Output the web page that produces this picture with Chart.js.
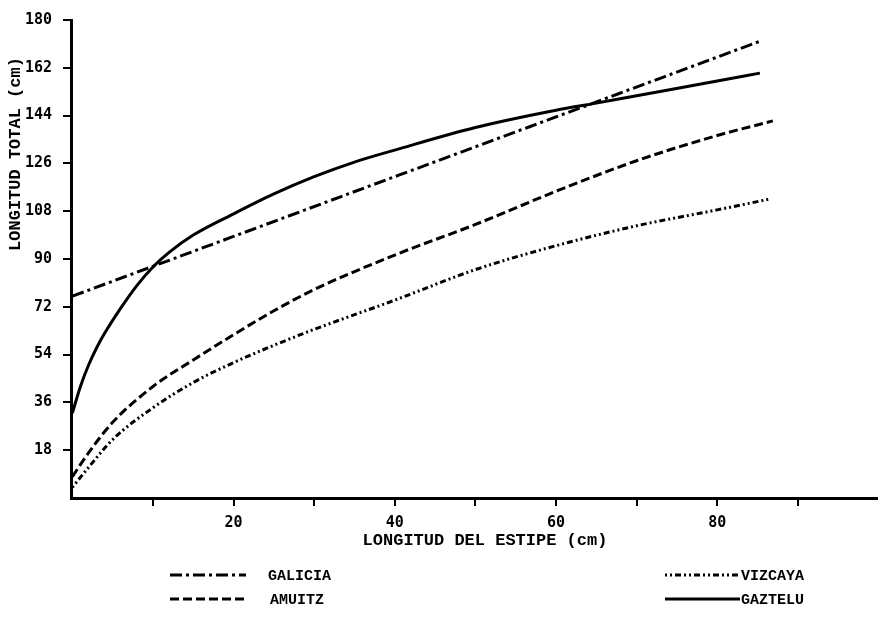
<!DOCTYPE html>
<html>
<head>
<meta charset="utf-8">
<script src="https://cdn.jsdelivr.net/npm/chart.js@4.4.0/dist/chart.umd.min.js"></script>
<style>
  html, body { margin: 0; padding: 0; background: #fff; }
</style>
</head>
<body>
<canvas id="chart" width="878" height="626"></canvas>
<script>
// --- Data (cm) ---
const galiciaX = [0, 20, 40, 60, 85.3];
const galiciaY = [76, 98.5, 121, 143.5, 172];

const vizcayaX = [0, 2, 5, 10, 15, 20, 25, 30, 40, 50, 60, 70, 80, 86.4];
const vizcayaY = [4, 11.5, 22, 34, 43.5, 51, 57.5, 63.5, 74.5, 86, 95, 102.5, 108.5, 112.5];

const amuitzX = [0, 2, 5, 10, 15, 20, 25, 30, 40, 50, 60, 70, 80, 86.9];
const amuitzY = [8, 17, 28.5, 42, 52, 61.5, 70.5, 78.5, 91.5, 103, 115.5, 127, 136.5, 142];

const gazteluX = [0, 1, 2, 3, 4, 6, 8, 10, 12, 15, 20, 25, 30, 35, 40, 50, 60, 65, 70, 80, 85.3];
const gazteluY = [32, 42, 50, 56.5, 62, 71.5, 80, 87, 92.5, 99, 107, 114.5, 121, 126.5, 131, 139.5, 146, 148.7, 151.5, 157, 160];

const yTicks = [18, 36, 54, 72, 90, 108, 126, 144, 162, 180];
const xTicks = [10, 20, 30, 40, 50, 60, 70, 80, 90];
const xLabels = [20, 40, 60, 80];

const pts = (xs, ys) => xs.map((x, i) => ({ x, y: ys[i] }));

const FONT = "'Liberation Mono', 'DejaVu Sans Mono', monospace";
const TICKFONT = "'DejaVu Sans Mono', monospace";

const line = (label, xs, ys, dash) => ({
  label,
  data: pts(xs, ys),
  borderColor: "#000",
  borderWidth: 3,
  borderDash: dash,
  pointRadius: 0,
  fill: false,
  cubicInterpolationMode: "monotone"
});

// --- Titles + 2x2 legend ---
const extras = {
  id: "extras",
  afterDraw(chart) {
    const ctx = chart.ctx;
    ctx.save();
    ctx.fillStyle = "#000";
    ctx.font = "bold 17px " + FONT;
    ctx.textBaseline = "middle";
    ctx.textAlign = "center";
    ctx.fillText("LONGITUD DEL ESTIPE (cm)", 485, 541);

    ctx.save();
    ctx.translate(16, 154);
    ctx.rotate(-Math.PI / 2);
    ctx.fillText("LONGITUD TOTAL (cm)", 0, 0);
    ctx.restore();

    const slots = [
      { x0: 170, x1: 246, tx: 268, y: 575 },
      { x0: 665, x1: 740, tx: 741, y: 575 },
      { x0: 170, x1: 246, tx: 270, y: 599 },
      { x0: 665, x1: 740, tx: 741, y: 599 }
    ];
    ctx.font = "bold 15px " + FONT;
    ctx.textAlign = "left";
    chart.data.datasets.forEach((ds, i) => {
      const s = slots[i];
      ctx.beginPath();
      ctx.lineWidth = 3;
      ctx.strokeStyle = "#000";
      ctx.setLineDash(ds.borderDash || []);
      ctx.moveTo(s.x0, s.y);
      ctx.lineTo(s.x1, s.y);
      ctx.stroke();
      ctx.setLineDash([]);
      ctx.fillText(ds.label, s.tx, s.y + 1);
    });
    ctx.restore();
  }
};

new Chart(document.getElementById("chart"), {
  type: "line",
  data: {
    datasets: [
      line("GALICIA", galiciaX, galiciaY, [12, 4, 3, 4]),
      line("VIZCAYA", vizcayaX, vizcayaY, [2, 3, 2, 3, 6, 3]),
      line("AMUITZ", amuitzX, amuitzY, [9, 4]),
      line("GAZTELU", gazteluX, gazteluY, [])
    ]
  },
  options: {
    responsive: false,
    animation: false,
    layout: { padding: { top: 13, right: -5, left: 0, bottom: 0 } },
    plugins: { legend: { display: false }, tooltip: { enabled: false } },
    scales: {
      x: {
        type: "linear",
        min: -0.17,
        max: 99.95,
        afterFit: s => { s.height = 128; },
        afterBuildTicks: s => { s.ticks = xTicks.map(v => ({ value: v })); },
        border: { display: true, color: "#000", width: 3 },
        grid: {
          drawOnChartArea: false,
          tickLength: 8,
          lineWidth: 2,
          color: "#000"
        },
        ticks: {
          autoSkip: false,
          maxRotation: 0,
          padding: 8,
          color: "#000",
          font: { family: TICKFONT, size: 15, weight: "bold" },
          callback: v => xLabels.includes(v) ? String(v) : ""
        }
      },
      y: {
        min: 0,
        max: 180,
        afterFit: s => { s.width = 71; },
        afterBuildTicks: s => { s.ticks = yTicks.map(v => ({ value: v })); },
        border: { display: true, color: "#000", width: 3 },
        grid: {
          drawOnChartArea: false,
          tickLength: 8,
          lineWidth: 2,
          color: "#000"
        },
        ticks: {
          autoSkip: false,
          padding: 11,
          color: "#000",
          font: { family: TICKFONT, size: 15, weight: "bold" },
          callback: v => String(v)
        }
      }
    }
  },
  plugins: [extras]
});
</script>
</body>
</html>
